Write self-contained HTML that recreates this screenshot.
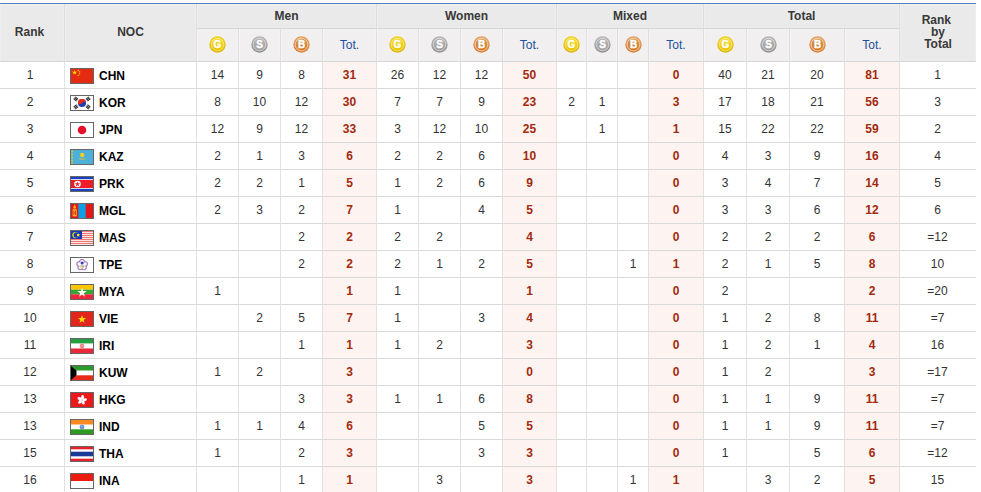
<!DOCTYPE html>
<html><head><meta charset="utf-8"><title>Medal table</title>
<style>
html,body{margin:0;padding:0;background:#fff;}
body{width:981px;height:492px;overflow:hidden;font-family:"Liberation Sans",Arial,sans-serif;font-size:12px;color:#333;}
table{position:absolute;left:0;top:3px;border-collapse:separate;border-spacing:0;table-layout:fixed;width:976px;border-top:1px solid #4a7cbf;}
th,td{padding:0;text-align:center;vertical-align:middle;box-sizing:border-box;overflow:hidden;white-space:nowrap;}
th{background:#eaeaea;font-weight:bold;color:#383838;border-right:1px solid #dedede;border-bottom:1px solid #d6d6d6;line-height:12px;}
th.rs{padding-bottom:1px;}
thead tr.r1 th{height:25px;box-shadow:inset 0 1px 0 #f5f1ef, inset 1px 0 0 #eeeeee, inset -1px 0 0 #ededed;}
thead tr.r1 th.rs{box-shadow:inset 0 1px 0 #f5f1ef, inset 1px 0 0 #eeeeee, inset -1px 0 0 #ededed;}
thead tr.r2 th{height:33px;background:#f1eff0;box-shadow:inset 1px 0 0 #f6f5f5, inset -1px 0 0 #f3f2f2;}
th.tot{font-weight:normal;color:#2250a0;}
td{height:27px;border-right:1px solid #e2e2e2;border-bottom:1px solid #d9d9d9;color:#333;}
td.t{background:#fdf4f2;color:#a32a0c;font-weight:bold;}
td.noc{text-align:left;color:#000;font-weight:bold;padding-left:5px;}
td.noc svg{vertical-align:top;margin-top:0;}
.last{border-right:none !important;}
.fl{display:inline-block;width:22px;height:14px;border:1px solid #666;vertical-align:middle;margin-right:5px;position:relative;top:1px;}
.fl svg{display:block;}
svg.md{display:block;margin:0 auto;position:relative;top:-1px;}
.mlg,.mls,.mlb{font:bold 10px "Liberation Sans",Arial,sans-serif;fill:#fff;stroke:#fff;stroke-width:0.35px;}
td.rk{padding-right:4px;}
th.rk{padding-right:5px;}
th.last{padding-right:0;}
td.last{padding-right:1px;}
.nt{position:relative;top:2px;}
</style></head><body>
<svg width="0" height="0" style="position:absolute">
<defs>
<linearGradient id="og" x1="0" y1="0" x2="0" y2="1"><stop offset="0" stop-color="#f2d21a"/><stop offset="1" stop-color="#dcb400"/></linearGradient>
<linearGradient id="ig" x1="0" y1="0" x2="0" y2="1"><stop offset="0" stop-color="#f6dc30"/><stop offset="1" stop-color="#eac400"/></linearGradient>
<linearGradient id="rg" x1="0" y1="0" x2="0" y2="1"><stop offset="0" stop-color="#fbf0a0"/><stop offset="1" stop-color="#f6e070"/></linearGradient>
<linearGradient id="os" x1="0" y1="0" x2="0" y2="1"><stop offset="0" stop-color="#b8b8b8"/><stop offset="1" stop-color="#8e8e8e"/></linearGradient>
<linearGradient id="is" x1="0" y1="0" x2="0" y2="1"><stop offset="0" stop-color="#b4b4b4"/><stop offset="1" stop-color="#a2a2a2"/></linearGradient>
<linearGradient id="rs" x1="0" y1="0" x2="0" y2="1"><stop offset="0" stop-color="#e0e0e0"/><stop offset="1" stop-color="#d0d0d0"/></linearGradient>
<linearGradient id="ob" x1="0" y1="0" x2="0" y2="1"><stop offset="0" stop-color="#e8a060"/><stop offset="1" stop-color="#d8803a"/></linearGradient>
<linearGradient id="ib" x1="0" y1="0" x2="0" y2="1"><stop offset="0" stop-color="#c89a58"/><stop offset="1" stop-color="#d87a28"/></linearGradient>
<linearGradient id="rb" x1="0" y1="0" x2="0" y2="1"><stop offset="0" stop-color="#f6dcc0"/><stop offset="1" stop-color="#f0c8a0"/></linearGradient>
</defs></svg>

<table><colgroup><col style="width:65px"><col style="width:132px"><col style="width:42px"><col style="width:42px"><col style="width:42px"><col style="width:54px"><col style="width:42px"><col style="width:42px"><col style="width:42px"><col style="width:54px"><col style="width:30px"><col style="width:31px"><col style="width:31px"><col style="width:55px"><col style="width:43px"><col style="width:43px"><col style="width:55px"><col style="width:55px"><col style="width:76px"></colgroup>
<thead><tr class="r1"><th rowspan="2" class="rs rk">Rank</th><th rowspan="2" class="rs">NOC</th><th colspan="4">Men</th><th colspan="4">Women</th><th colspan="4">Mixed</th><th colspan="4">Total</th><th rowspan="2" class="rs last">Rank&nbsp;<br>by<br>Total</th></tr>
<tr class="r2"><th><svg class="md" width="17" height="17" viewBox="0 0 17 17"><circle cx="8.5" cy="8.5" r="8.2" fill="url(#og)"/><circle cx="8.5" cy="8.5" r="6.3" fill="url(#ig)" stroke="url(#rg)" stroke-width="0.9"/><text x="8.5" y="12.1" text-anchor="middle" class="mlg">G</text></svg></th><th><svg class="md" width="17" height="17" viewBox="0 0 17 17"><circle cx="8.5" cy="8.5" r="8.2" fill="url(#os)"/><circle cx="8.5" cy="8.5" r="6.3" fill="url(#is)" stroke="url(#rs)" stroke-width="0.9"/><text x="8.5" y="12.1" text-anchor="middle" class="mls">S</text></svg></th><th><svg class="md" width="17" height="17" viewBox="0 0 17 17"><circle cx="8.5" cy="8.5" r="8.2" fill="url(#ob)"/><circle cx="8.5" cy="8.5" r="6.3" fill="url(#ib)" stroke="url(#rb)" stroke-width="0.9"/><text x="8.5" y="12.1" text-anchor="middle" class="mlb">B</text></svg></th><th class="tot">Tot.</th><th><svg class="md" width="17" height="17" viewBox="0 0 17 17"><circle cx="8.5" cy="8.5" r="8.2" fill="url(#og)"/><circle cx="8.5" cy="8.5" r="6.3" fill="url(#ig)" stroke="url(#rg)" stroke-width="0.9"/><text x="8.5" y="12.1" text-anchor="middle" class="mlg">G</text></svg></th><th><svg class="md" width="17" height="17" viewBox="0 0 17 17"><circle cx="8.5" cy="8.5" r="8.2" fill="url(#os)"/><circle cx="8.5" cy="8.5" r="6.3" fill="url(#is)" stroke="url(#rs)" stroke-width="0.9"/><text x="8.5" y="12.1" text-anchor="middle" class="mls">S</text></svg></th><th><svg class="md" width="17" height="17" viewBox="0 0 17 17"><circle cx="8.5" cy="8.5" r="8.2" fill="url(#ob)"/><circle cx="8.5" cy="8.5" r="6.3" fill="url(#ib)" stroke="url(#rb)" stroke-width="0.9"/><text x="8.5" y="12.1" text-anchor="middle" class="mlb">B</text></svg></th><th class="tot">Tot.</th><th><svg class="md" width="17" height="17" viewBox="0 0 17 17"><circle cx="8.5" cy="8.5" r="8.2" fill="url(#og)"/><circle cx="8.5" cy="8.5" r="6.3" fill="url(#ig)" stroke="url(#rg)" stroke-width="0.9"/><text x="8.5" y="12.1" text-anchor="middle" class="mlg">G</text></svg></th><th><svg class="md" width="17" height="17" viewBox="0 0 17 17"><circle cx="8.5" cy="8.5" r="8.2" fill="url(#os)"/><circle cx="8.5" cy="8.5" r="6.3" fill="url(#is)" stroke="url(#rs)" stroke-width="0.9"/><text x="8.5" y="12.1" text-anchor="middle" class="mls">S</text></svg></th><th><svg class="md" width="17" height="17" viewBox="0 0 17 17"><circle cx="8.5" cy="8.5" r="8.2" fill="url(#ob)"/><circle cx="8.5" cy="8.5" r="6.3" fill="url(#ib)" stroke="url(#rb)" stroke-width="0.9"/><text x="8.5" y="12.1" text-anchor="middle" class="mlb">B</text></svg></th><th class="tot">Tot.</th><th><svg class="md" width="17" height="17" viewBox="0 0 17 17"><circle cx="8.5" cy="8.5" r="8.2" fill="url(#og)"/><circle cx="8.5" cy="8.5" r="6.3" fill="url(#ig)" stroke="url(#rg)" stroke-width="0.9"/><text x="8.5" y="12.1" text-anchor="middle" class="mlg">G</text></svg></th><th><svg class="md" width="17" height="17" viewBox="0 0 17 17"><circle cx="8.5" cy="8.5" r="8.2" fill="url(#os)"/><circle cx="8.5" cy="8.5" r="6.3" fill="url(#is)" stroke="url(#rs)" stroke-width="0.9"/><text x="8.5" y="12.1" text-anchor="middle" class="mls">S</text></svg></th><th><svg class="md" width="17" height="17" viewBox="0 0 17 17"><circle cx="8.5" cy="8.5" r="8.2" fill="url(#ob)"/><circle cx="8.5" cy="8.5" r="6.3" fill="url(#ib)" stroke="url(#rb)" stroke-width="0.9"/><text x="8.5" y="12.1" text-anchor="middle" class="mlb">B</text></svg></th><th class="tot">Tot.</th></tr></thead>
<tbody>
<tr><td class="rk">1</td><td class="noc"><span class="fl"><svg class="flag" width="22" height="14" viewBox="0 0 22 14"><rect width="22" height="14" fill="#e52a12"/><polygon points="3.60,1.00 4.18,2.80 6.07,2.80 4.54,3.91 5.13,5.70 3.60,4.59 2.07,5.70 2.66,3.91 1.13,2.80 3.02,2.80" fill="#ffde00"/><polygon points="7.30,0.20 7.55,0.96 8.35,0.96 7.70,1.43 7.95,2.19 7.30,1.72 6.65,2.19 6.90,1.43 6.25,0.96 7.05,0.96" fill="#ffde00"/><polygon points="8.60,1.80 8.85,2.56 9.65,2.56 9.00,3.03 9.25,3.79 8.60,3.32 7.95,3.79 8.20,3.03 7.55,2.56 8.35,2.56" fill="#ffde00"/><polygon points="8.60,3.80 8.85,4.56 9.65,4.56 9.00,5.03 9.25,5.79 8.60,5.32 7.95,5.79 8.20,5.03 7.55,4.56 8.35,4.56" fill="#ffde00"/><polygon points="7.30,5.30 7.55,6.06 8.35,6.06 7.70,6.53 7.95,7.29 7.30,6.82 6.65,7.29 6.90,6.53 6.25,6.06 7.05,6.06" fill="#ffde00"/></svg></span><span class="nt">CHN</span></td><td>14</td><td>9</td><td>8</td><td class="t">31</td><td>26</td><td>12</td><td>12</td><td class="t">50</td><td></td><td></td><td></td><td class="t">0</td><td>40</td><td>21</td><td>20</td><td class="t">81</td><td class="last">1</td></tr>
<tr><td class="rk">2</td><td class="noc"><span class="fl"><svg class="flag" width="22" height="14" viewBox="0 0 22 14"><rect width="22" height="14" fill="#fff"/><circle cx="11" cy="7" r="4" fill="#1e3fb0"/><path d="M7,7 A4,4 0 0 1 15,7 C14,5.6 12.2,5.6 11,7 C9.8,8.4 8,8.4 7,7Z" fill="#ee2a10" transform="rotate(-8 11 7)"/><g transform="rotate(40 4.9 3.0)" fill="#222"><rect x="3.0000000000000004" y="1.25" width="3.8" height="1.0"/><rect x="3.0000000000000004" y="2.5" width="3.8" height="1.0"/><rect x="3.0000000000000004" y="3.75" width="3.8" height="1.0"/></g><g transform="rotate(-40 17.1 3.0)" fill="#222"><rect x="15.200000000000001" y="1.25" width="3.8" height="1.0"/><rect x="15.200000000000001" y="2.5" width="3.8" height="1.0"/><rect x="15.200000000000001" y="3.75" width="3.8" height="1.0"/></g><g transform="rotate(-40 4.9 10.9)" fill="#222"><rect x="3.0000000000000004" y="9.15" width="3.8" height="1.0"/><rect x="3.0000000000000004" y="10.4" width="3.8" height="1.0"/><rect x="3.0000000000000004" y="11.65" width="3.8" height="1.0"/></g><g transform="rotate(40 17.1 10.9)" fill="#222"><rect x="15.200000000000001" y="9.15" width="3.8" height="1.0"/><rect x="15.200000000000001" y="10.4" width="3.8" height="1.0"/><rect x="15.200000000000001" y="11.65" width="3.8" height="1.0"/></g></svg></span><span class="nt">KOR</span></td><td>8</td><td>10</td><td>12</td><td class="t">30</td><td>7</td><td>7</td><td>9</td><td class="t">23</td><td>2</td><td>1</td><td></td><td class="t">3</td><td>17</td><td>18</td><td>21</td><td class="t">56</td><td class="last">3</td></tr>
<tr><td class="rk">3</td><td class="noc"><span class="fl"><svg class="flag" width="22" height="14" viewBox="0 0 22 14"><rect width="22" height="14" fill="#fff"/><circle cx="11" cy="7" r="4.3" fill="#e3102a"/></svg></span><span class="nt">JPN</span></td><td>12</td><td>9</td><td>12</td><td class="t">33</td><td>3</td><td>12</td><td>10</td><td class="t">25</td><td></td><td>1</td><td></td><td class="t">1</td><td>15</td><td>22</td><td>22</td><td class="t">59</td><td class="last">2</td></tr>
<tr><td class="rk">4</td><td class="noc"><span class="fl"><svg class="flag" width="22" height="14" viewBox="0 0 22 14"><rect width="22" height="14" fill="#4cb0d8"/><g fill="#f0d020"><rect x="0.5" y="0" width="1" height="14" opacity="0.55"/><rect x="0.5" y="1" width="1.2" height="1"/><rect x="0.5" y="4" width="1.2" height="1"/><rect x="0.5" y="7" width="1.2" height="1"/><rect x="0.5" y="10" width="1.2" height="1"/><rect x="0.5" y="12.5" width="1.2" height="1"/><circle cx="11.2" cy="5" r="2.2"/></g><path d="M7,7.5 Q9,10.5 11.2,9.5 Q13.4,10.5 15.4,7.5 Q13.4,9 11.2,8.3 Q9,9 7,7.5Z" fill="#d8c040" opacity="0.8"/></svg></span><span class="nt">KAZ</span></td><td>2</td><td>1</td><td>3</td><td class="t">6</td><td>2</td><td>2</td><td>6</td><td class="t">10</td><td></td><td></td><td></td><td class="t">0</td><td>4</td><td>3</td><td>9</td><td class="t">16</td><td class="last">4</td></tr>
<tr><td class="rk">5</td><td class="noc"><span class="fl"><svg class="flag" width="22" height="14" viewBox="0 0 22 14"><rect width="22" height="14" fill="#1a3fc0"/><rect y="2.2" width="22" height="9.6" fill="#fff"/><rect y="3" width="22" height="8" fill="#ed1c27"/><circle cx="6.5" cy="7" r="3.3" fill="#fff"/><polygon points="6.50,4.40 7.13,6.33 9.16,6.33 7.52,7.53 8.15,9.47 6.50,8.27 4.85,9.47 5.48,7.53 3.84,6.33 5.87,6.33" fill="#ed1c27"/></svg></span><span class="nt">PRK</span></td><td>2</td><td>2</td><td>1</td><td class="t">5</td><td>1</td><td>2</td><td>6</td><td class="t">9</td><td></td><td></td><td></td><td class="t">0</td><td>3</td><td>4</td><td>7</td><td class="t">14</td><td class="last">5</td></tr>
<tr><td class="rk">6</td><td class="noc"><span class="fl"><svg class="flag" width="22" height="14" viewBox="0 0 22 14"><rect width="22" height="14" fill="#e3161a"/><rect x="7.33" width="7.34" height="14" fill="#0e9fe6"/><g fill="#f4b020"><rect x="1.6" y="5.2" width="4.2" height="7.2"/><circle cx="3.7" cy="3.4" r="1.3"/><rect x="3.1" y="0.8" width="1.2" height="1.6"/></g><g fill="#e3161a"><rect x="2.5" y="6.6" width="0.7" height="4.4"/><rect x="4.2" y="6.6" width="0.7" height="4.4"/><rect x="3.3" y="8.3" width="0.8" height="1"/></g></svg></span><span class="nt">MGL</span></td><td>2</td><td>3</td><td>2</td><td class="t">7</td><td>1</td><td></td><td>4</td><td class="t">5</td><td></td><td></td><td></td><td class="t">0</td><td>3</td><td>3</td><td>6</td><td class="t">12</td><td class="last">6</td></tr>
<tr><td class="rk">7</td><td class="noc"><span class="fl"><svg class="flag" width="22" height="14" viewBox="0 0 22 14"><rect y="0" width="22" height="1" fill="#f07a72"/><rect y="1" width="22" height="1" fill="#fbe4e2"/><rect y="2" width="22" height="1" fill="#f07a72"/><rect y="3" width="22" height="1" fill="#fbe4e2"/><rect y="4" width="22" height="1" fill="#f07a72"/><rect y="5" width="22" height="1" fill="#fbe4e2"/><rect y="6" width="22" height="1" fill="#f07a72"/><rect y="7" width="22" height="1" fill="#fbe4e2"/><rect y="8" width="22" height="1" fill="#f07a72"/><rect y="9" width="22" height="1" fill="#fbe4e2"/><rect y="10" width="22" height="1" fill="#f07a72"/><rect y="11" width="22" height="1" fill="#fbe4e2"/><rect y="12" width="22" height="1" fill="#f07a72"/><rect y="13" width="22" height="1" fill="#fbe4e2"/><rect width="11" height="8" fill="#1536bf"/><circle cx="4.3" cy="4.1" r="3.1" fill="#d8d020"/><circle cx="5.3" cy="4.1" r="2.6" fill="#1536bf"/><polygon points="7.20,2.10 7.65,3.48 9.10,3.48 7.93,4.34 8.38,5.72 7.20,4.86 6.02,5.72 6.47,4.34 5.30,3.48 6.75,3.48" fill="#ffee00"/><circle cx="7.2" cy="4.1" r="1.2" fill="#ffee00"/></svg></span><span class="nt">MAS</span></td><td></td><td></td><td>2</td><td class="t">2</td><td>2</td><td>2</td><td></td><td class="t">4</td><td></td><td></td><td></td><td class="t">0</td><td>2</td><td>2</td><td>2</td><td class="t">6</td><td class="last">=12</td></tr>
<tr><td class="rk">8</td><td class="noc"><span class="fl"><svg class="flag" width="22" height="14" viewBox="0 0 22 14"><rect width="22" height="14" fill="#fff"/><circle cx="11.10" cy="3.70" r="2.75" fill="#6470e8"/><circle cx="14.14" cy="5.91" r="2.75" fill="#6470e8"/><circle cx="12.98" cy="9.49" r="2.75" fill="#6470e8"/><circle cx="9.22" cy="9.49" r="2.75" fill="#6470e8"/><circle cx="8.06" cy="5.91" r="2.75" fill="#6470e8"/><circle cx="11.1" cy="6.9" r="3.6" fill="#6470e8"/><circle cx="11.10" cy="3.70" r="2.2" fill="#f07878"/><circle cx="14.14" cy="5.91" r="2.2" fill="#f07878"/><circle cx="12.98" cy="9.49" r="2.2" fill="#f07878"/><circle cx="9.22" cy="9.49" r="2.2" fill="#f07878"/><circle cx="8.06" cy="5.91" r="2.2" fill="#f07878"/><circle cx="11.1" cy="6.9" r="3.3" fill="#f07878"/><circle cx="11.10" cy="3.70" r="1.7" fill="#fff"/><circle cx="14.14" cy="5.91" r="1.7" fill="#fff"/><circle cx="12.98" cy="9.49" r="1.7" fill="#fff"/><circle cx="9.22" cy="9.49" r="1.7" fill="#fff"/><circle cx="8.06" cy="5.91" r="1.7" fill="#fff"/><circle cx="11.1" cy="6.9" r="3.0" fill="#fff"/><circle cx="11.1" cy="5.0" r="1.5" fill="#2a3cc0"/><g fill="none" stroke-width="0.5"><circle cx="9.6" cy="8.1" r="0.9" stroke="#90b0f0"/><circle cx="11.1" cy="8.1" r="0.9" stroke="#a0a0a0"/><circle cx="12.6" cy="8.1" r="0.9" stroke="#f09090"/><circle cx="10.3" cy="9" r="0.9" stroke="#f0d060"/><circle cx="11.9" cy="9" r="0.9" stroke="#60c060"/></g></svg></span><span class="nt">TPE</span></td><td></td><td></td><td>2</td><td class="t">2</td><td>2</td><td>1</td><td>2</td><td class="t">5</td><td></td><td></td><td>1</td><td class="t">1</td><td>2</td><td>1</td><td>5</td><td class="t">8</td><td class="last">10</td></tr>
<tr><td class="rk">9</td><td class="noc"><span class="fl"><svg class="flag" width="22" height="14" viewBox="0 0 22 14"><rect width="22" height="4.7" fill="#fdc500"/><rect y="4.7" width="22" height="4.6" fill="#34a832"/><rect y="9.3" width="22" height="4.7" fill="#ea2839"/><polygon points="11.00,2.60 12.12,6.05 15.76,6.05 12.82,8.19 13.94,11.65 11.00,9.51 8.06,11.65 9.18,8.19 6.24,6.05 9.88,6.05" fill="#fff"/></svg></span><span class="nt">MYA</span></td><td>1</td><td></td><td></td><td class="t">1</td><td>1</td><td></td><td></td><td class="t">1</td><td></td><td></td><td></td><td class="t">0</td><td>2</td><td></td><td></td><td class="t">2</td><td class="last">=20</td></tr>
<tr><td class="rk">10</td><td class="noc"><span class="fl"><svg class="flag" width="22" height="14" viewBox="0 0 22 14"><rect width="22" height="14" fill="#e2261c"/><polygon points="11.00,3.10 11.97,6.07 15.09,6.07 12.56,7.91 13.53,10.88 11.00,9.04 8.47,10.88 9.44,7.91 6.91,6.07 10.03,6.07" fill="#ffe000"/></svg></span><span class="nt">VIE</span></td><td></td><td>2</td><td>5</td><td class="t">7</td><td>1</td><td></td><td>3</td><td class="t">4</td><td></td><td></td><td></td><td class="t">0</td><td>1</td><td>2</td><td>8</td><td class="t">11</td><td class="last">=7</td></tr>
<tr><td class="rk">11</td><td class="noc"><span class="fl"><svg class="flag" width="22" height="14" viewBox="0 0 22 14"><rect width="22" height="4.7" fill="#239f40"/><rect y="4.7" width="22" height="4.6" fill="#fff"/><rect y="9.3" width="22" height="4.7" fill="#e8283a"/><rect y="4.4" width="22" height="0.5" fill="#b8e0b8"/><rect y="9.1" width="22" height="0.5" fill="#f0b0b0"/><circle cx="11" cy="7" r="1.9" fill="#f3b0b0"/><circle cx="11" cy="7" r="1.9" fill="none" stroke="#e06060" stroke-width="0.7"/><rect x="10.6" y="5.3" width="0.8" height="3.4" fill="#e06868"/></svg></span><span class="nt">IRI</span></td><td></td><td></td><td>1</td><td class="t">1</td><td>1</td><td>2</td><td></td><td class="t">3</td><td></td><td></td><td></td><td class="t">0</td><td>1</td><td>2</td><td>1</td><td class="t">4</td><td class="last">16</td></tr>
<tr><td class="rk">12</td><td class="noc"><span class="fl"><svg class="flag" width="22" height="14" viewBox="0 0 22 14"><rect width="22" height="4.7" fill="#2c9a2c"/><rect y="4.7" width="22" height="4.6" fill="#fff"/><rect y="9.3" width="22" height="4.7" fill="#e82a1a"/><path d="M0,0 L5.5,4.7 L5.5,9.3 L0,14Z" fill="#000"/></svg></span><span class="nt">KUW</span></td><td>1</td><td>2</td><td></td><td class="t">3</td><td></td><td></td><td></td><td class="t">0</td><td></td><td></td><td></td><td class="t">0</td><td>1</td><td>2</td><td></td><td class="t">3</td><td class="last">=17</td></tr>
<tr><td class="rk">13</td><td class="noc"><span class="fl"><svg class="flag" width="22" height="14" viewBox="0 0 22 14"><rect width="22" height="14" fill="#ea1a1c"/><ellipse cx="11.6" cy="4.5" rx="1.45" ry="2.4" fill="#fff" transform="rotate(0 11 7)"/><ellipse cx="11.6" cy="4.5" rx="1.45" ry="2.4" fill="#fff" transform="rotate(72 11 7)"/><ellipse cx="11.6" cy="4.5" rx="1.45" ry="2.4" fill="#fff" transform="rotate(144 11 7)"/><ellipse cx="11.6" cy="4.5" rx="1.45" ry="2.4" fill="#fff" transform="rotate(216 11 7)"/><ellipse cx="11.6" cy="4.5" rx="1.45" ry="2.4" fill="#fff" transform="rotate(288 11 7)"/><circle cx="11" cy="7" r="0.7" fill="#f4a0a0"/></svg></span><span class="nt">HKG</span></td><td></td><td></td><td>3</td><td class="t">3</td><td>1</td><td>1</td><td>6</td><td class="t">8</td><td></td><td></td><td></td><td class="t">0</td><td>1</td><td>1</td><td>9</td><td class="t">11</td><td class="last">=7</td></tr>
<tr><td class="rk">13</td><td class="noc"><span class="fl"><svg class="flag" width="22" height="14" viewBox="0 0 22 14"><rect width="22" height="4.7" fill="#fa8a20"/><rect y="4.7" width="22" height="4.6" fill="#fff"/><rect y="9.3" width="22" height="4.7" fill="#2c9a20"/><circle cx="11" cy="7" r="2" fill="#8ab0e0" stroke="#3060c0" stroke-width="0.6"/><circle cx="11" cy="7" r="0.6" fill="#3060c0"/></svg></span><span class="nt">IND</span></td><td>1</td><td>1</td><td>4</td><td class="t">6</td><td></td><td></td><td>5</td><td class="t">5</td><td></td><td></td><td></td><td class="t">0</td><td>1</td><td>1</td><td>9</td><td class="t">11</td><td class="last">=7</td></tr>
<tr><td class="rk">15</td><td class="noc"><span class="fl"><svg class="flag" width="22" height="14" viewBox="0 0 22 14"><rect width="22" height="14" fill="#e8202a"/><rect y="2.3" width="22" height="9.4" fill="#fff"/><rect y="4.7" width="22" height="4.6" fill="#1a3a9a"/></svg></span><span class="nt">THA</span></td><td>1</td><td></td><td>2</td><td class="t">3</td><td></td><td></td><td>3</td><td class="t">3</td><td></td><td></td><td></td><td class="t">0</td><td>1</td><td></td><td>5</td><td class="t">6</td><td class="last">=12</td></tr>
<tr><td class="rk">16</td><td class="noc"><span class="fl"><svg class="flag" width="22" height="14" viewBox="0 0 22 14"><rect width="22" height="7" fill="#ec1c10"/><rect y="7" width="22" height="7" fill="#fff"/></svg></span><span class="nt">INA</span></td><td></td><td></td><td>1</td><td class="t">1</td><td></td><td>3</td><td></td><td class="t">3</td><td></td><td></td><td>1</td><td class="t">1</td><td></td><td>3</td><td>2</td><td class="t">5</td><td class="last">15</td></tr>
</tbody></table></body></html>
